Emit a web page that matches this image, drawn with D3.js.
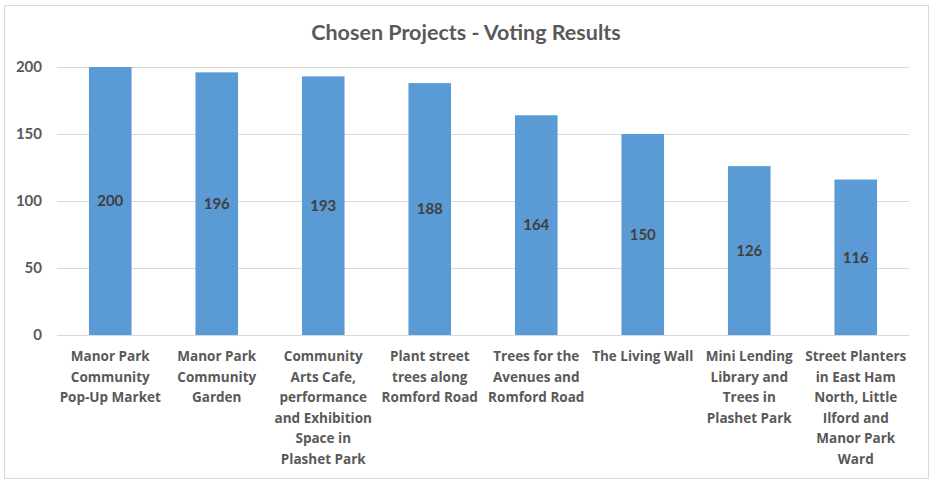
<!DOCTYPE html>
<html>
<head>
<meta charset="utf-8">
<script src="https://cdn.jsdelivr.net/npm/d3@7"></script>
<style>
  body { margin: 0; background: #fff; }
</style>
</head>
<body>
<div id="chart"></div>
<script>
// data
var projects = [
    ["Manor Park", "Community", "Pop-Up Market"],
    ["Manor Park", "Community", "Garden"],
    ["Community", "Arts Cafe,", "performance", "and Exhibition", "Space in", "Plashet Park"],
    ["Plant street", "trees along", "Romford Road"],
    ["Trees for the", "Avenues and", "Romford Road"],
    ["The Living Wall"],
    ["Mini Lending", "Library and", "Trees in", "Plashet Park"],
    ["Street Planters", "in East Ham", "North, Little", "Ilford and", "Manor Park", "Ward"]
];
var votes = [200, 196, 193, 188, 164, 150, 126, 116];
var yTicks = [0, 50, 100, 150, 200];

var W = 935, H = 485;
var margin = { top: 67, right: 26, bottom: 150, left: 57 },
    width = W - margin.left - margin.right,
    height = H - margin.top - margin.bottom;

var svg = d3.select("#chart").append("svg")
    .attr("width", W)
    .attr("height", H);

// outer border
svg.append("rect")
    .attr("x", 4.5).attr("y", 5.5)
    .attr("width", 924).attr("height", 473)
    .attr("fill", "#fff")
    .attr("stroke", "#d9d9d9");

svg.append("text")
    .attr("x", 466).attr("y", 40)
    .attr("text-anchor", "middle")
    .style("font-family", "Lato, sans-serif")
    .attr("font-size", "21.5px")
    .attr("font-weight", "bold")
    .attr("fill", "#595959")
    .text("Chosen Projects - Voting Results");

var g = svg.append("g")
    .attr("transform", "translate(" + margin.left + "," + margin.top + ")");

var x = d3.scaleBand()
    .domain(d3.range(votes.length))
    .range([0, width])
    .paddingInner(0.6)
    .paddingOuter(0.3);
var y = d3.scaleLinear()
    .domain([0, 200])
    .range([height, 0]);

// gridlines
g.selectAll(".grid")
    .data(yTicks)
    .enter().append("line")
    .attr("x1", 0).attr("x2", width)
    .attr("y1", function(d) { return Math.round(y(d)) + 0.5; })
    .attr("y2", function(d) { return Math.round(y(d)) + 0.5; })
    .attr("stroke", "#d9d9d9");

// y axis labels
var yAxis = g.append("g")
    .call(d3.axisLeft(y).tickValues(yTicks).tickSize(0).tickPadding(15));
yAxis.select(".domain").remove();
yAxis.selectAll("text")
    .style("font-family", "Lato, sans-serif")
    .style("font-size", "15px")
    .style("font-weight", "bold")
    .attr("fill", "#595959");

// bars
g.selectAll(".bar")
    .data(votes)
    .enter().append("rect")
    .attr("class", "bar")
    .attr("x", function(d, i) { return x(i); })
    .attr("width", x.bandwidth())
    .attr("y", function(d) { return y(d); })
    .attr("height", function(d) { return height - y(d); })
    .attr("fill", "#5b9bd5");

// value labels
g.selectAll(".val")
    .data(votes)
    .enter().append("text")
    .attr("x", function(d, i) { return x(i) + x.bandwidth() / 2; })
    .attr("y", function(d) { return (y(d) + height) / 2; })
    .attr("dy", "0.35em")
    .attr("text-anchor", "middle")
    .style("font-family", "Lato, sans-serif")
    .style("font-size", "15px")
    .style("font-weight", "bold")
    .attr("fill", "#404040")
    .text(function(d) { return d; });

// category labels
var cat = g.selectAll(".cat")
    .data(projects)
    .enter().append("text")
    .attr("text-anchor", "middle")
    .style("font-family", "'Open Sans', sans-serif")
    .style("font-size", "13.5px")
    .style("font-weight", "bold")
    .attr("fill", "#595959");
cat.selectAll("tspan")
    .data(function(d, i) { return d.map(function(s) { return { s: s, i: i }; }); })
    .enter().append("tspan")
    .attr("x", function(d) { return x(d.i) + x.bandwidth() / 2; })
    .attr("y", function(d, j) { return height + 26 + j * 20.6; })
    .text(function(d) { return d.s; });
</script>
</body>
</html>
